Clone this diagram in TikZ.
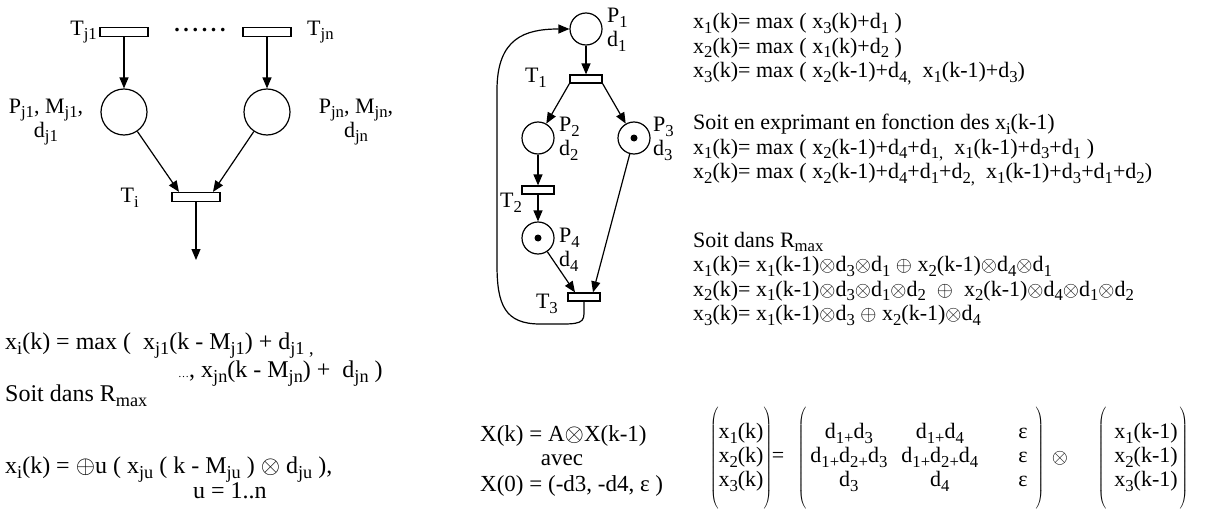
\documentclass[tikz,border=0pt]{standalone}
\usepackage{fontspec}
\usepackage{graphicx}
\setmainfont{Liberation Serif}
\usetikzlibrary{arrows.meta,calc}
\newcommand{\sbs}[1]{\raisebox{-0.22em}{\scalebox{0.76}{#1}}}
\newcommand{\Rmax}{R\sbs{max}}
\tikzset{
  place/.style={circle,draw,line width=1.2pt,minimum size=32pt,inner sep=0pt},
  bigplace/.style={place,minimum size=46pt},
  trans/.style={rectangle,draw,fill=white,line width=1.2pt,minimum width=32pt,minimum height=8pt,inner sep=0pt},
  bigtrans/.style={trans,minimum width=48pt,minimum height=9pt},
  arc/.style={line width=1.2pt,-{Triangle[length=11pt,width=9pt]}},
  lbl/.style={inner sep=0pt,align=center,font=\fontsize{22}{24}\selectfont},
  eqn/.style={inner sep=0pt,anchor=base west,align=left,font=\fontsize{22}{24.5}\selectfont},
  bigeqn/.style={eqn,font=\fontsize{24}{25}\selectfont},
}

\begin{document}
\begin{tikzpicture}[x=1pt,y=-1pt]
  \useasboundingbox (0,0) rectangle (1214,511);

  % reseau general
  \node[bigtrans] (tj1) at (124,32) {};
  \node[bigtrans] (tjn) at (267,32) {};
  \node[lbl] (dots) at (200,30) {\textbf{.\,.\,.\,.\,.\,.}};
  \node[bigplace] (pj1) at (124,112) {};
  \node[bigplace] (pjn) at (267,112) {};
  \node[bigtrans] (ti) at (196,197) {};
  \coordinate (out) at (196,260);
  \node[lbl,anchor=east] (tj1lbl) at (97,32) {T\sbs{j1}};
  \node[lbl,anchor=west] (tjnlbl) at (307,32) {T\sbs{jn}};
  \node[lbl] (pj1lbl) at (46,122) {P\sbs{j1}, M\sbs{j1},\\d\sbs{j1}};
  \node[lbl] (pjnlbl) at (356,122) {P\sbs{jn}, M\sbs{jn},\\d\sbs{jn}};
  \node[lbl,anchor=east] (tilbl) at (139,198) {T\sbs{i}};
  \draw[arc] (tj1) -- (pj1);
  \draw[arc] (tjn) -- (pjn);
  \draw[arc] (pj1) -- ([xshift=-17pt]ti.north);
  \draw[arc] (pjn) -- ([xshift=17pt]ti.north);
  \draw[arc] (ti) -- (out);

  \node[bigeqn] (eqa) at (5,349) {x\sbs{i}(k) = max (\ \ x\sbs{j1}(k - M\sbs{j1}) + d\sbs{j1 ,}};
  \node[bigeqn] (eqb) at (178,377) {{\fontsize{11}{11}\selectfont\ldots}, x\sbs{jn}(k - M\sbs{jn}) +\ \ d\sbs{jn} )};
  \node[bigeqn] (eqc) at (5,401) {Soit dans \Rmax};
  \node[bigeqn] (eqd) at (5,473) {x\sbs{i}(k) = $\oplus$u ( x\sbs{ju} ( k - M\sbs{ju} ) $\otimes$ d\sbs{ju} ),};
  \node[bigeqn] (eqe) at (193,498) {u = 1..n};

  % exemple
  \node[place] (p1) at (586,29) {};
  \node[trans] (t1) at (586,79) {};
  \node[place] (p2) at (538,138) {};
  \node[place] (p3) at (634,138) {};
  \node[trans] (t2) at (538,190) {};
  \node[place] (p4) at (538,238) {};
  \node[trans] (t3) at (584,297) {};
  \fill (p3) circle (3.5pt);
  \fill (p4) circle (3.5pt);
  \node[lbl,anchor=west,align=left] (p1lbl) at (607,30) {P\sbs{1}\\d\sbs{1}};
  \node[lbl,anchor=west,align=left] (p2lbl) at (559,139) {P\sbs{2}\\d\sbs{2}};
  \node[lbl,anchor=west,align=left] (p3lbl) at (653,139) {P\sbs{3}\\d\sbs{3}};
  \node[lbl,anchor=west,align=left] (p4lbl) at (559,250) {P\sbs{4}\\d\sbs{4}};
  \node[lbl,anchor=east] (t1lbl) at (547,78) {T\sbs{1}};
  \node[lbl] (t2lbl) at (511,203) {T\sbs{2}};
  \node[lbl,anchor=east] (t3lbl) at (558,304) {T\sbs{3}};
  \draw[arc] (p1) -- (t1);
  \draw[arc] (t1.south west) -- (p2);
  \draw[arc] (t1.south east) -- (p3);
  \draw[arc] (p2) -- (t2);
  \draw[arc] (t2) -- (p4);
  \draw[arc] (p4) -- ([xshift=-9pt]t3.north);
  \draw[arc] (p3) -- ([xshift=9pt]t3.north);
  \draw[arc] (t3.south) -- ++(0,12) .. controls +(0,12) and (575,324) .. (540,324)
    .. controls (505,324) and (497,305) .. (497,265) -- (497,90)
    .. controls (497,38) and (525,29) .. (p1.west);

  \node[eqn] (ra) at (693,77.5) {x\sbs{1}(k)= max ( x\sbs{3}(k)+d\sbs{1} )\\
    x\sbs{2}(k)= max ( x\sbs{1}(k)+d\sbs{2} )\\
    x\sbs{3}(k)= max ( x\sbs{2}(k-1)+d\sbs{4,}\ \ x\sbs{1}(k-1)+d\sbs{3})};
  \node[eqn] (rb) at (693,178.5) {Soit en exprimant en fonction des x\sbs{i}(k-1)\\
    x\sbs{1}(k)= max ( x\sbs{2}(k-1)+d\sbs{4}+d\sbs{1,}\ \ x\sbs{1}(k-1)+d\sbs{3}+d\sbs{1} )\\
    x\sbs{2}(k)= max ( x\sbs{2}(k-1)+d\sbs{4}+d\sbs{1}+d\sbs{2,}\ \ x\sbs{1}(k-1)+d\sbs{3}+d\sbs{1}+d\sbs{2})};
  \node[eqn] (rc) at (693,320.5) {Soit dans \Rmax\\
    x\sbs{1}(k)= x\sbs{1}(k-1)$\otimes$d\sbs{3}$\otimes$d\sbs{1} $\oplus$ x\sbs{2}(k-1)$\otimes$d\sbs{4}$\otimes$d\sbs{1}\\
    x\sbs{2}(k)= x\sbs{1}(k-1)$\otimes$d\sbs{3}$\otimes$d\sbs{1}$\otimes$d\sbs{2}\ \ $\oplus$\ \ x\sbs{2}(k-1)$\otimes$d\sbs{4}$\otimes$d\sbs{1}$\otimes$d\sbs{2}\\
    x\sbs{3}(k)= x\sbs{1}(k-1)$\otimes$d\sbs{3} $\oplus$ x\sbs{2}(k-1)$\otimes$d\sbs{4}};

  % forme matricielle
  \node[eqn,font=\fontsize{23}{25}\selectfont] (xk) at (480,441) {X(k) = A$\otimes$X(k-1)};
  \node[lbl,font=\fontsize{23}{25}\selectfont] (avec) at (562,460) {avec};
  \node[eqn,font=\fontsize{23}{25}\selectfont] (x0) at (480,491) {X(0) = (-d3, -d4, ε )};
  \node[lbl] (vk) at (741,458) {$\left(\rule[-44pt]{0pt}{100pt}\begin{tabular}{@{}l@{}}x\sbs{1}(k)\\x\sbs{2}(k)\\x\sbs{3}(k)\end{tabular}\right)$};
  \node[lbl] (eq) at (778,457) {=};
  \node[lbl] (ma) at (921,458) {$\left(\rule[-44pt]{0pt}{100pt}\begin{tabular}{@{\hspace{4pt}}c@{\hspace{14pt}}c@{\hspace{40pt}}c@{\hspace{8pt}}}
    d\sbs{1+}d\sbs{3} & d\sbs{1+}d\sbs{4} & ε\\
    d\sbs{1+}d\sbs{2+}d\sbs{3} & d\sbs{1+}d\sbs{2+}d\sbs{4} & ε\\
    d\sbs{3} & d\sbs{4} & ε\end{tabular}\right)$};
  \node[lbl] (ot) at (1060,458) {$\otimes$};
  \node[lbl] (vk1) at (1143,458) {$\left(\rule[-44pt]{0pt}{100pt}\begin{tabular}{@{\hspace{8pt}}l@{\hspace{2pt}}}x\sbs{1}(k-1)\\x\sbs{2}(k-1)\\x\sbs{3}(k-1)\end{tabular}\right)$};
\end{tikzpicture}
\end{document}
